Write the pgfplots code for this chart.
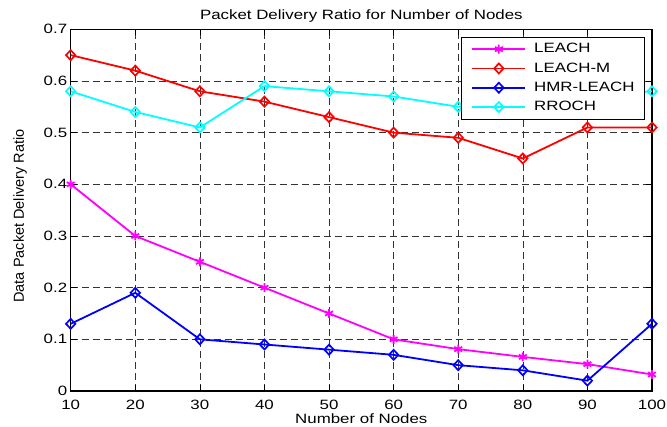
\documentclass[border=0pt]{standalone}
\usepackage{fontspec}
\setmainfont[FakeStretch=1.25]{Liberation Sans}
\newfontfamily\ylfont{Liberation Sans}
\usepackage{pgfplots}
\pgfplotsset{compat=1.18}
\definecolor{mmag}{rgb}{1,0,1}
\definecolor{mred}{rgb}{1,0,0}
\definecolor{mblue}{rgb}{0,0,1}
\definecolor{mcyan}{rgb}{0,1,1}
\begin{document}
\begin{tikzpicture}[x=1pt,y=1pt]
\begin{axis}[
  width=581.3pt, height=361.7pt, scale only axis,
  xmin=10, xmax=100, ymin=0, ymax=0.7,
  xtick={10,20,...,100},
  ytick={0,0.1,0.2,0.3,0.4,0.5,0.6,0.7},
  yticklabel style={/pgf/number format/fixed},
  /pgf/number format/assume math mode=true,
  tick label style={font=\fontsize{13.5}{15}\selectfont},
  xticklabel style={yshift=-5.5pt},
  tick align=inside, tick pos=both,
  major tick length=6pt,
  tick style={black, line width=0.6pt},
  axis line style={black, line width=1.1pt},
  grid=major,
  major grid style={black!80, dash pattern=on 7pt off 4pt, line width=0.6pt},
  title={Packet Delivery Ratio for Number of Nodes},
  every axis title/.style={font=\fontsize{13.5}{15}\selectfont, at={(axis description cs:0.5,1)}, anchor=base, yshift=10pt},
  xlabel={Number of Nodes},
  xlabel style={font=\fontsize{13.5}{15}\selectfont, at={(axis description cs:0.5,0)}, anchor=base, yshift=-33pt},
  ylabel={Data Packet Delivery Ratio},
  ylabel style={font=\ylfont\fontsize{14.5}{16}\selectfont, at={(axis description cs:-0.0872,0.484)}, anchor=center},
  legend cell align=left,
  legend image code/.code={\draw[mark repeat=2,mark phase=2,line width=1.8pt,#1] plot coordinates {(0pt,0.3pt) (26.5pt,0.3pt) (53pt,0.3pt)};},
  legend style={at={(0.988,0.978)}, anchor=north east, draw=black, line width=0.9pt, fill=white,
    font=\fontsize{13.5}{15}\selectfont,
    inner xsep=10pt, inner ysep=5.5pt,
    nodes={inner sep=0pt, text height=9.7pt, text depth=2.8pt},
    row sep=6.8pt,
    /tikz/every odd column/.append style={column sep=8pt}},
]
\addplot[mmag, line width=1.8pt, mark=asterisk, mark size=4.5pt, mark options={line width=1.8pt}] coordinates {
(10,0.40)(20,0.30)(30,0.25)(40,0.20)(50,0.15)(60,0.10)(70,0.081)(80,0.066)(90,0.052)(100,0.032)};
\addlegendentry{LEACH}
\addplot[mred, line width=1.8pt, mark=diamond, mark size=5pt, mark options={xscale=1.25, line width=1.7pt}] coordinates {
(10,0.65)(20,0.62)(30,0.58)(40,0.56)(50,0.53)(60,0.50)(70,0.49)(80,0.45)(90,0.51)(100,0.51)};
\addlegendentry{LEACH-M}
\addplot[mblue, line width=1.8pt, mark=diamond, mark size=5pt, mark options={xscale=1.25, line width=1.7pt}] coordinates {
(10,0.13)(20,0.19)(30,0.10)(40,0.09)(50,0.08)(60,0.07)(70,0.05)(80,0.04)(90,0.02)(100,0.13)};
\addlegendentry{HMR-LEACH}
\addplot[mcyan, line width=1.8pt, mark=diamond, mark size=5pt, mark options={xscale=1.25, line width=1.7pt}] coordinates {
(10,0.58)(20,0.54)(30,0.51)(40,0.59)(50,0.58)(60,0.57)(70,0.55)(80,0.56)(90,0.57)(100,0.58)};
\addlegendentry{RROCH}
\end{axis}
\pgfresetboundingbox
\path[use as bounding box] (-70.7,-36) rectangle (596.3,391);
\end{tikzpicture}
\end{document}
